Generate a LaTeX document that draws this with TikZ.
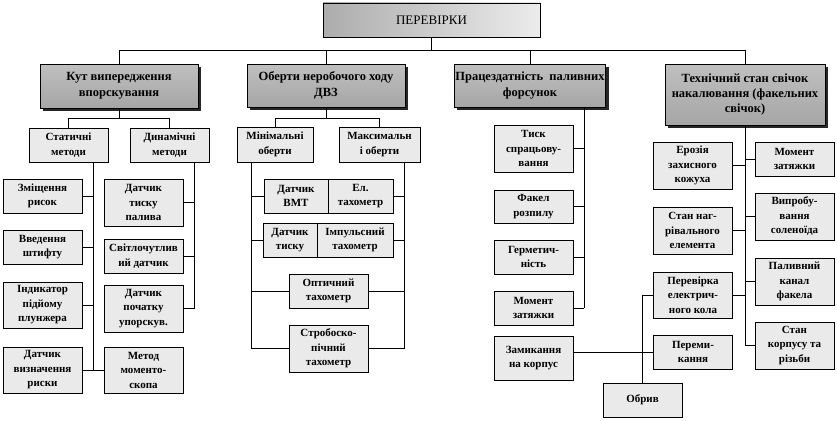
\documentclass[tikz,border=0pt]{standalone}
\usepackage{fontspec}
\setmainfont{Liberation Serif}
\usetikzlibrary{shadows,calc}
\definecolor{boxgray}{HTML}{EAEAEA}
\begin{document}
\begin{tikzpicture}[x=1pt,y=-1pt,
 ln/.style={line width=0.8pt},
 sbox/.style={draw=black, line width=0.8pt, fill=boxgray, align=center,
   font=\fontsize{11}{14.5}\selectfont\bfseries, inner sep=1pt,
   minimum width=79pt},
 mbox/.style={draw=black, line width=0.8pt, top color=gray!50, middle color=gray!5,
   bottom color=gray!70, align=center, font=\fontsize{12.5}{16}\selectfont\bfseries,
   inner sep=1pt, general shadow={fill=black!85, shadow xshift=3pt, shadow yshift=-3pt}},
 tbox/.style={draw=black, line width=0.8pt, left color=gray!65, right color=gray!15,
   align=center, font=\fontsize{13}{15}\selectfont, inner sep=1pt}]
\useasboundingbox (0,0) rectangle (837,420);

% top
\node[tbox, minimum width=217pt, minimum height=34pt] (top) at (431.5,20) {ПЕРЕВІРКИ};

% level 1
\node[mbox, minimum width=158pt, minimum height=44pt] (kut) at (119,86) {Кут випередження\\впорскування};
\node[mbox, minimum width=158pt, minimum height=43pt] (ober) at (326,85.5) {Оберти неробочого ходу\\ДВЗ};
\node[mbox, minimum width=151pt, minimum height=43pt] (prac) at (530,85.5) {Працездатність\ \ паливних\\форсунок};
\node[mbox, minimum width=160pt, minimum height=61pt, font=\fontsize{12.5}{15}\selectfont\bfseries] (tech) at (745,94.5) {Технічний стан свічок\\накалювання (факельних\\свічок)};

% kut group
\node[sbox, minimum height=34pt] (stat) at (68.5,145) {Статичні\\методи};
\node[sbox, minimum height=34pt] (dyn) at (169.5,145) {Динамічні\\методи};
\node[sbox, minimum height=34pt] (zm) at (42.5,196) {Зміщення\\рисок};
\node[sbox, minimum height=34pt] (vv) at (42.5,247) {Введення\\штифту};
\node[sbox, minimum height=46pt] (ind) at (42.5,305) {Індикатор\\підйому\\плунжера};
\node[sbox, minimum height=46pt] (dv) at (42.5,370) {Датчик\\визначення\\риски};
\node[sbox, minimum height=47pt] (dtp) at (143.5,202.5) {Датчик\\тиску\\палива};
\node[sbox, minimum height=34pt] (svit) at (143.5,256) {Світлочутлив\\ий датчик};
\node[sbox, minimum height=47pt] (dpu) at (143.5,308.5) {Датчик\\початку\\упорскув.};
\node[sbox, minimum height=46pt] (mm) at (143.5,370) {Метод\\моменто-\\скопа};

% ober group
\node[sbox, minimum width=76pt, minimum height=35pt] (min) at (275,144.5) {Мінімальні\\оберти};
\node[sbox, minimum width=81pt, minimum height=35pt] (max) at (379.5,144.5) {Максимальн\\і оберти};
\node[sbox, minimum width=64pt, minimum height=34pt] (vmt) at (296,196) {Датчик\\ВМТ};
\node[sbox, minimum width=65pt, minimum height=34pt] (el) at (360.5,196) {Ел.\\тахометр};
\node[sbox, minimum width=54pt, minimum height=34pt] (dt) at (290,240) {Датчик\\тиску};
\node[sbox, minimum width=76pt, minimum height=34pt] (imp) at (355,240) {Імпульсний\\тахометр};
\node[sbox, minimum height=34pt] (opt) at (328.5,291) {Оптичний\\тахометр};
\node[sbox, minimum height=47pt] (strob) at (328.5,348.5) {Стробоско-\\пічний\\тахометр};

% prac group
\node[sbox, minimum height=47pt] (tysk) at (533.5,148.5) {Тиск\\спрацьову-\\вання};
\node[sbox, minimum height=33pt] (fakel) at (533.5,206.5) {Факел\\розпилу};
\node[sbox, minimum height=34pt] (herm) at (533.5,257) {Герметич-\\ність};
\node[sbox, minimum height=34pt] (mom) at (533.5,308) {Момент\\затяжки};
\node[sbox, minimum height=44pt] (zam) at (533.5,358) {Замикання\\на корпус};

% tech group
\node[sbox, minimum height=47pt] (eroz) at (692.5,165.5) {Ерозія\\захисного\\кожуха};
\node[sbox, minimum height=47pt] (stan) at (692.5,230.5) {Стан наг-\\рівального\\елемента};
\node[sbox, minimum height=46pt] (perev) at (693,295) {Перевірка\\електрич-\\ного кола};
\node[sbox, minimum height=34pt] (perem) at (693,352) {Переми-\\кання};
\node[sbox, minimum height=34pt] (obryv) at (642.5,400) {Обрив};
\node[sbox, minimum height=34pt] (momz) at (794.5,159) {Момент\\затяжки};
\node[sbox, minimum height=47pt] (vypr) at (794.5,216.5) {Випробу-\\вання\\соленоїда};
\node[sbox, minimum height=47pt] (pal) at (794.5,281.5) {Паливний\\канал\\факела};
\node[sbox, minimum height=47pt] (korp) at (794.5,345.5) {Стан\\корпусу та\\різьби};

% level 1 connectors
\coordinate (bar) at (0,50);
\draw[ln] (top.south) -- (top.south |- bar);
\draw[ln] (kut.north) |- (tech.north |- bar) -- (tech.north);
\draw[ln] (ober.north) -- (ober.north |- bar);
\draw[ln] (prac.north) -- (prac.north |- bar);

% level 2 connectors
\coordinate (b2) at (0,118);
\draw[ln] (kut.south) -- (kut.south |- b2);
\draw[ln] (stat.north) |- (dyn.north |- b2) -- (dyn.north);
\draw[ln] (ober.south) -- (ober.south |- b2);
\draw[ln] (min.north) |- (max.north |- b2) -- (max.north);

% static spine
\coordinate (ss) at ([xshift=-15pt]stat.south east);
\draw[ln] (ss) -- (ss |- dv.east);
\foreach \n in {zm,vv,ind} \draw[ln] (\n.east) -- (\n.east -| ss);
\draw[ln] (dv.east) -- (mm.west);
% dynamic spine
\coordinate (ds) at ([xshift=-15pt]dyn.south east);
\draw[ln] (ds) -- (ds |- dpu.east);
\foreach \n in {dtp,svit,dpu} \draw[ln] (\n.east) -- (\n.east -| ds);

% ober spines
\coordinate (ms) at ([xshift=15pt]min.south west);
\coordinate (xs) at ([xshift=-16pt]max.south east);
\draw[ln] (ms) |- (strob.west);
\draw[ln] (xs) |- (strob.east);
\foreach \n in {vmt,dt,opt} \draw[ln] (\n.west) -- (\n.west -| ms);
\foreach \n in {el,imp,opt} \draw[ln] (\n.east) -- (\n.east -| xs);

% prac spine
\coordinate (is) at ([xshift=54pt]prac.south);
\draw[ln] (is) -- (is |- mom.east);
\foreach \n in {tysk,fakel,herm,mom} \draw[ln] (\n.east) -- (\n.east -| is);
\draw[ln] (perem.west -| zam.east) -- (perem.west);

% tech spine
\draw[ln] (tech.south) -- (tech.south |- korp.west) -- (korp.west);
\foreach \n in {eroz,stan,perev} \draw[ln] (\n.east) -- (\n.east -| tech.south);
\foreach \n in {momz,vypr,pal} \draw[ln] (\n.west) -- (\n.west -| tech.south);
\draw[ln] (perev.west) -| (obryv.north);
\end{tikzpicture}
\end{document}
